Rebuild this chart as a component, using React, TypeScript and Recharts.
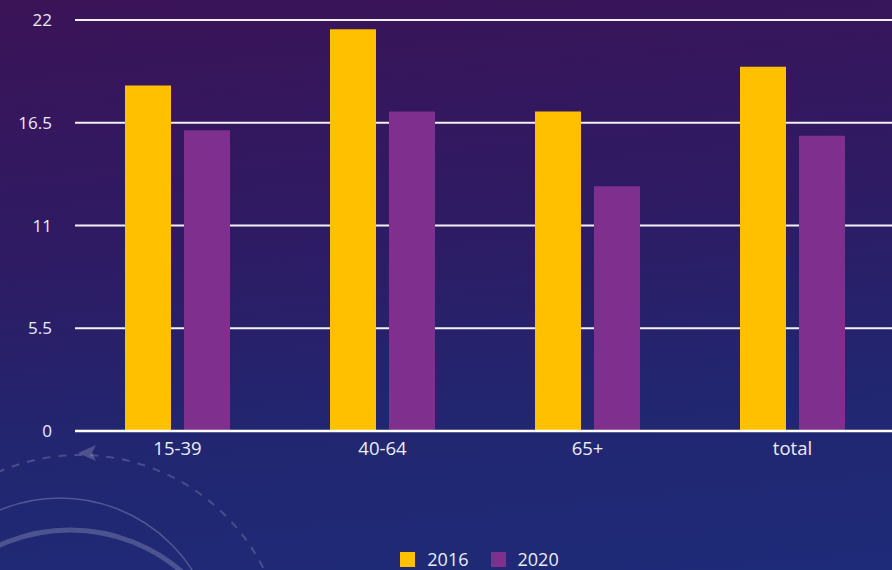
import { BarChart, Bar, XAxis, YAxis, CartesianGrid, Legend } from 'recharts';

const categories = ['15-39', '40-64', '65+', 'total'];
const values2016 = [18.5, 21.5, 17.1, 19.5];
const values2020 = [16.1, 17.1, 13.1, 15.8];
const yTicks = [0, 5.5, 11, 16.5, 22];

const data = categories.map((group, i) => ({
  group,
  y2016: values2016[i],
  y2020: values2020[i],
}));

const textColor = '#ececf4';
const font = '"Open Sans", sans-serif';

function LegendContent(props: any) {
  const { payload } = props;
  return (
    <div style={{ display: 'flex', justifyContent: 'center', paddingTop: 90, paddingLeft: 64, fontFamily: font }}>
      {payload.map((p: any, i: number) => (
        <div
          key={p.value}
          style={{ display: 'flex', alignItems: 'center', marginRight: i < payload.length - 1 ? 22 : 0 }}
        >
          <div style={{ width: 15, height: 15, background: p.color, marginRight: 12 }} />
          <span style={{ color: textColor, fontSize: 18, lineHeight: '16px' }}>{p.value}</span>
        </div>
      ))}
    </div>
  );
}

export default function App() {
  return (
    <div
      style={{
        position: 'absolute',
        left: 0,
        top: 0,
        width: 892,
        height: 570,
        overflow: 'hidden',
        background: 'linear-gradient(175deg, #3b1357 0%, #2e1b64 40%, #222670 70%, #1e2b78 100%)',
      }}
    >
      {/* decorative arcs in the lower left */}
      <svg width={892} height={570} style={{ position: 'absolute', left: 0, top: 0 }}>
        <circle cx={60} cy={655} r={157} fill="none" stroke="rgba(255,255,255,0.22)" strokeWidth={1.5} />
        <circle cx={70} cy={701} r={171} fill="none" stroke="rgba(255,255,255,0.2)" strokeWidth={5} />
        <circle cx={80} cy={660} r={205} fill="none" stroke="rgba(255,255,255,0.18)" strokeWidth={2} strokeDasharray="8 8" />
        <path d="M78 453 L96 445 L92 453 L96 461 Z" fill="rgba(255,255,255,0.2)" />
      </svg>
      <div style={{ position: 'absolute', left: 0, top: 0 }}>
        <BarChart
          width={900}
          height={570}
          data={data}
          margin={{ top: 20, right: 5, left: 0, bottom: 0 }}
          barSize={46}
          barGap={13}
        >
          <CartesianGrid vertical={false} stroke="#f4f0fa" strokeWidth={2} />
          <XAxis
            dataKey="group"
            height={30}
            tickLine={false}
            tickSize={6}
            tickMargin={5}
            axisLine={{ stroke: '#ffffff', strokeWidth: 2.5 }}
            tick={{ fill: textColor, fontSize: 18.5, fontFamily: font }}
          />
          <YAxis
            width={75}
            domain={[0, 22]}
            ticks={yTicks}
            axisLine={false}
            tickLine={false}
            tickSize={6}
            tickMargin={17}
            tick={{ fill: textColor, fontSize: 17, fontFamily: font }}
          />
          <Legend verticalAlign="bottom" height={109} content={<LegendContent />} />
          <Bar dataKey="y2016" name="2016" fill="#FFC000" isAnimationActive={false} />
          <Bar dataKey="y2020" name="2020" fill="#7F2F8E" isAnimationActive={false} />
        </BarChart>
      </div>
    </div>
  );
}
